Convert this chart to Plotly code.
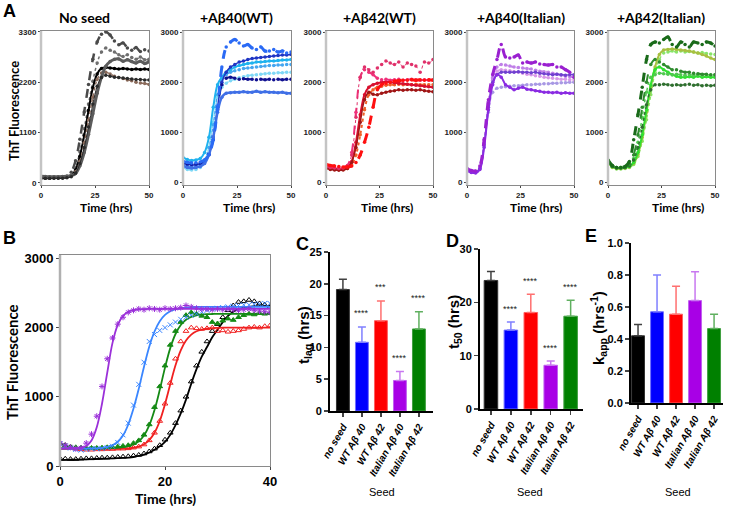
import plotly.graph_objects as go

W, H = 729, 506
def fx(px): return px / W
def fy(py): return 1 - py / H

# ------------------------------------------------------------------ data
TIME_A = [0, 2, 4, 6, 8, 10, 12, 14, 16, 18, 20, 22, 24, 26, 28, 30, 32, 34, 36, 38, 40, 42, 44, 46, 48, 50]

# No seed
NS_1 = [130,125,120,118,120,125,140,230,480,950,1550,2150,2700,3080,3250,3300,3230,3100,3020,3060,2950,2900,2960,2870,2910,2880]
NS_2 = [115,112,110,110,112,118,130,170,330,680,1180,1720,2220,2620,2860,2950,2900,2860,2800,2760,2800,2740,2700,2750,2690,2700]
NS_3 = [105,100,100,102,105,110,118,150,280,580,1030,1580,2080,2380,2500,2520,2510,2500,2490,2500,2490,2480,2490,2480,2490,2480]
NS_4 = [120,118,115,115,118,120,128,150,240,470,870,1370,1870,2260,2400,2420,2380,2330,2300,2280,2250,2230,2200,2180,2170,2150]
NS_5 = [140,135,130,130,132,135,140,155,200,370,660,1060,1510,1960,2310,2550,2650,2700,2710,2660,2690,2650,2620,2660,2610,2650]
NS_6 = [100,98,95,95,98,100,108,130,210,420,770,1220,1720,2110,2300,2350,2330,2310,2300,2290,2280,2270,2260,2260,2250,2250]

# +Abeta40 (WT)
W40_1 = [420,400,390,395,410,450,560,850,1500,2300,2700,2800,2850,2780,2720,2750,2680,2650,2700,2620,2620,2650,2600,2620,2580,2600]
W40_2 = [330,300,290,300,320,380,550,900,1400,1700,1780,1790,1800,1800,1810,1800,1800,1820,1800,1810,1800,1800,1790,1800,1780,1780]
W40_3 = [400,380,370,375,390,430,560,850,1450,1950,2080,2100,2080,2060,2070,2060,2060,2050,2060,2050,2060,2050,2060,2050,2060,2060]
W40_4 = [380,360,350,355,370,420,560,900,1500,2000,2200,2300,2350,2400,2420,2450,2470,2480,2490,2500,2510,2520,2530,2540,2540,2550]
W40_5 = [500,460,440,450,480,600,900,1500,1950,2100,2200,2250,2300,2330,2350,2370,2380,2400,2400,2410,2420,2420,2430,2440,2440,2450]
W40_6 = [300,260,250,260,300,420,700,1200,1700,1900,1980,2030,2060,2090,2110,2130,2140,2150,2160,2170,2180,2180,2190,2190,2200,2200]
W40_7 = [350,320,310,320,350,450,700,1150,1750,2050,2150,2200,2230,2250,2270,2280,2290,2300,2310,2320,2330,2330,2340,2340,2350,2350]

# +Abeta42 (WT)
W42_1 = [320,300,290,280,290,330,550,1300,2100,2300,2250,2200,2280,2350,2420,2380,2350,2400,2300,2380,2350,2320,2200,2400,2380,2450]
W42_2 = [330,310,300,290,300,340,600,1400,2100,2250,2200,2150,2080,2050,2060,2040,2050,2060,2040,2050,2060,2050,2040,2050,2040,2050]
W42_3 = [280,260,250,245,250,280,400,700,1200,1650,1800,1760,1750,1780,1800,1820,1830,1850,1840,1850,1850,1840,1850,1830,1820,1810]
W42_4 = [360,340,330,320,310,310,330,400,550,800,1100,1500,1850,1950,1980,2000,2020,2030,2040,2040,2050,2040,2050,2040,2050,2040]
W42_5 = [300,280,270,260,260,280,350,550,950,1450,1750,1850,1900,1920,1940,1950,1950,1960,1950,1960,1950,1960,1950,1950,1950,1950]
W42_6 = [310,290,280,270,275,300,420,800,1350,1750,1900,1950,1980,2000,2010,2000,1990,1980,1970,1960,1950,1940,1930,1920,1910,1900]

# +Abeta40 (Italian)
I40_1 = [280,240,230,330,850,1650,2150,2450,2750,2500,2480,2500,2540,2380,2400,2380,2400,2360,2350,2340,2350,2300,2300,2250,2200,2100]
I40_2 = [230,200,190,260,700,1450,1950,2150,2100,1950,1900,1850,1880,1900,1860,1850,1830,1820,1800,1800,1790,1800,1780,1790,1780,1780]
I40_3 = [250,220,210,280,750,1500,2000,2150,2200,2200,2200,2200,2210,2200,2200,2190,2200,2180,2170,2160,2150,2160,2150,2140,2150,2150]
I40_4 = [260,230,220,290,780,1550,2100,2300,2350,2340,2320,2300,2290,2280,2270,2260,2240,2220,2210,2200,2180,2160,2140,2120,2110,2100]
I40_5 = [240,210,200,270,720,1400,1800,1880,1900,1910,1920,1930,1930,1940,1950,1950,1960,1960,1970,1970,1980,1980,1990,1990,2000,2000]
I40_6 = [260,235,225,300,790,1580,2080,2220,2250,2240,2230,2210,2200,2180,2160,2150,2130,2120,2100,2090,2080,2070,2060,2060,2050,2050]

# +Abeta42 (Italian)
I42_1 = [450,340,300,300,320,420,850,1350,1900,2450,2750,2800,2780,2850,2900,2750,2700,2800,2750,2700,2800,2780,2750,2800,2780,2720]
I42_2 = [430,330,300,300,310,360,550,950,1500,2000,2350,2450,2400,2350,2300,2250,2250,2220,2200,2200,2180,2170,2160,2160,2150,2150]
I42_3 = [420,320,290,290,300,330,450,700,1100,1550,1850,1950,1950,1960,1950,1940,1950,1940,1950,1960,1940,1950,1930,1940,1930,1940]
I42_4 = [400,310,280,280,290,310,380,560,900,1400,1900,2300,2550,2640,2650,2660,2650,2640,2630,2620,2600,2580,2550,2520,2480,2450]
I42_5 = [410,320,290,290,300,320,400,600,950,1450,1950,2250,2300,2250,2200,2150,2120,2100,2100,2110,2100,2120,2100,2110,2100,2100]
I42_6 = [390,300,270,270,280,300,360,520,820,1250,1750,2200,2450,2580,2600,2620,2600,2620,2600,2610,2600,2580,2590,2570,2560,2550]
I42_7 = [440,330,300,300,310,340,480,800,1300,1800,2100,2150,2180,2170,2160,2150,2160,2150,2140,2150,2140,2150,2140,2150,2140,2150]

# Panel B: averaged traces and sigmoidal fits
TIME_B = [0,1,2,3,4,5,6,7,8,9,10,11,12,13,14,15,16,17,18,19,20,21,22,23,24,25,26,27,28,29,30,31,32,33,34,35,36,37,38,39,40]
B_PURPLE = [330,300,270,250,260,330,460,720,1150,1550,1850,2050,2150,2220,2250,2270,2260,2280,2270,2260,2280,2270,2280,2290,2320,2300,2280,2270,2270,2260,2270,2260,2270,2260,2250,2260,2270,2250,2240,2230,2220]
B_PURPLE_FIT = [255,255,256,258,265,290,370,560,900,1350,1780,2040,2170,2230,2255,2265,2268,2270,2270,2270,2270,2270,2270,2270,2270,2270,2270,2270,2270,2270,2270,2270,2270,2270,2270,2270,2270,2270,2270,2270,2270]
B_BLUE = [320,290,260,240,230,240,250,250,255,265,285,340,450,620,880,1180,1500,1800,1900,1960,2000,2040,2080,2120,2150,2180,2200,2230,2250,2270,2280,2290,2300,2310,2320,2330,2330,2340,2340,2350,2350]
B_BLUE_FIT = [250,250,250,250,250,252,253,256,262,275,300,350,440,600,830,1115,1435,1725,1944,2093,2184,2236,2266,2281,2290,2295,2298,2300,2300,2300,2300,2300,2300,2300,2300,2300,2300,2300,2300,2300,2300]
B_GREEN = [330,300,280,270,265,260,260,260,265,270,275,280,290,300,330,370,450,600,850,1150,1450,1750,1950,2080,2180,2220,2200,2170,2150,2080,2060,2100,2130,2110,2150,2180,2200,2190,2210,2200,2210]
B_GREEN_FIT = [258,258,258,258,258,258,258,259,259,260,262,267,274,287,311,358,442,586,808,1100,1422,1704,1908,2038,2115,2155,2177,2188,2194,2197,2200,2200,2200,2200,2200,2200,2200,2200,2200,2200,2200]
B_RED = [330,300,270,250,240,235,235,240,240,245,245,250,250,255,265,280,310,370,480,650,900,1200,1550,1800,1950,2000,1990,1980,1990,2000,1950,1960,1940,1950,1960,1980,2000,2010,2000,2020,2030]
B_RED_FIT = [245,245,245,245,245,245,245,245,246,246,247,248,250,255,264,281,314,374,480,651,895,1181,1456,1672,1813,1899,1947,1972,1986,1993,1997,2000,2000,2000,2000,2000,2000,2000,2000,2000,2000]
B_BLACK = [110,105,100,100,105,110,110,115,120,120,125,130,135,140,150,160,180,210,250,300,380,480,620,800,1000,1220,1450,1650,1800,1950,2050,2150,2250,2320,2370,2380,2400,2380,2350,2330,2300]
B_BLACK_FIT = [85,88,90,92,95,97,100,102,105,108,110,113,117,122,130,145,165,195,235,285,350,450,590,760,960,1190,1400,1580,1720,1860,1970,2080,2170,2230,2270,2290,2300,2310,2310,2310,2310]

# Panels C-E
CATS = ["no seed", "WT Aβ 40", "WT Aβ 42", "Italian Aβ 40", "Italian Aβ 42"]
TLAG = [19.1, 10.8, 14.2, 4.8, 12.9]
TLAG_ERR = [1.6, 2.4, 3.1, 1.4, 2.7]
TLAG_SIG = ["", "****", "***", "****", "****"]
T50 = [24.1, 14.8, 18.1, 8.2, 17.4]
T50_ERR = [1.7, 1.5, 3.4, 0.8, 3.0]
T50_SIG = ["", "****", "****", "****", "****"]
KAPP = [0.42, 0.57, 0.555, 0.64, 0.465]
KAPP_ERR = [0.07, 0.23, 0.175, 0.18, 0.09]

# ------------------------------------------------------------------ styles
BAR_COL = ['#000000', '#0000FF', '#FF0000', '#A800E6', '#008000']
BAR_LINE = ['#333333', '#7070FF', '#FF6060', '#C060F0', '#40A040']
ERR_COL = ['#404040', '#8080FF', '#FF7070', '#C878F0', '#60B060']

A_PANELS = [
    ("No seed", [NS_1, NS_2, NS_3, NS_4, NS_5, NS_6],
     ['#4a4a4a', '#6e6e6e', '#000000', '#8a6a5a', '#5c5c5c', '#2a2a2a'],
     ['dash', 'dot', 'solid', 'dot', 'solid', 'solid'], [2.5, 1.5, 2, 1.5, 3, 1]),
    ("+Aβ40(WT)", [W40_6, W40_7, W40_5, W40_4, W40_3, W40_2, W40_1],
     ['#7fd8f6', '#45a6f0', '#1fb2ee', '#1f35c4', '#101090', '#3f6fe6', '#2a6af5'],
     ['dot', 'dot', 'solid', 'solid', 'dash', 'solid', 'dash'], [1.5, 1.5, 2, 1.5, 2, 2.5, 3]),
    ("+Aβ42(WT)", [W42_5, W42_6, W42_3, W42_2, W42_1, W42_4],
     ['#f0602a', '#d8102e', '#a01515', '#f0307a', '#e0306a', '#ff1010'],
     ['dot', 'solid', 'solid', 'dash', 'dot', 'dash'], [2, 2, 1.5, 2, 1, 3]),
    ("+Aβ40(Italian)", [I40_5, I40_6, I40_4, I40_3, I40_2, I40_1],
     ['#a898e4', '#d898e8', '#c080e8', '#7040d0', '#8a2be2', '#9a20d0'],
     ['dot', 'dot', 'dot', 'solid', 'solid', 'dash'], [1.5, 1.5, 2, 1.5, 2, 3]),
    ("+Aβ42(Italian)", [I42_6, I42_4, I42_5, I42_7, I42_3, I42_2, I42_1],
     ['#88e468', '#a8c040', '#30e030', '#50c850', '#2f6f2f', '#2e8b2e', '#1a6b1a'],
     ['dot', 'solid', 'solid', 'dot', 'dot', 'dash', 'dash'], [1.5, 2, 2, 1.5, 1.5, 2, 3]),
]
A_X = [(41, 149), (183, 291), (326, 433), (467, 574), (608, 715)]
A_TITLE_X = [84, 236, 379, 521, 661]
A_XLAB_X = [106, 249, 387, 536, 678]
A_YMAX = [3300, 3000, 3000, 3000, 3000]

B_SERIES = [
    (B_BLACK, B_BLACK_FIT, '#000000', 'triangle-up-open'),
    (B_RED, B_RED_FIT, '#f02020', 'triangle-up-open'),
    (B_GREEN, B_GREEN_FIT, '#158a15', 'triangle-up'),
    (B_BLUE, B_BLUE_FIT, '#3a86ff', 'x-thin-open'),
    (B_PURPLE, B_PURPLE_FIT, '#9b30d9', 'asterisk-open'),
]

FONT_T = "Lato, 'Open Sans', Arial"
FONT_N = "'Liberation Sans Narrow', 'Arial Narrow', 'Liberation Sans', Arial"
FONT_A = "'Liberation Sans', Arial"

fig = go.Figure()
layout = dict(width=W, height=H, margin=dict(l=0, r=0, t=0, b=0, pad=0, autoexpand=False),
              paper_bgcolor='white', plot_bgcolor='white', showlegend=False,
              barmode='overlay')
annotations = []
shapes = []

def axis_common(**kw):
    d = dict(showgrid=False, zeroline=False, showline=True, fixedrange=True, automargin=False)
    d.update(kw)
    return d

# ------------------------------------------------------------------ Panel A
for i, (title, curves, cols, dashes, widths) in enumerate(A_PANELS):
    n = i + 1
    xs = '' if n == 1 else str(n)
    x0, x1 = A_X[i]
    ymax = A_YMAX[i]
    for vals, c, d, w in zip(curves, cols, dashes, widths):
        fig.add_trace(go.Scatter(x=TIME_A, y=vals, mode='lines+markers',
                                 line=dict(color=c, width=w, dash=d, shape='spline'),
                                 marker=dict(size=3.5, color=c),
                                 xaxis='x' + xs, yaxis='y' + xs, hoverinfo='skip'))
    layout['xaxis' + xs] = axis_common(domain=[fx(x0), fx(x1)], range=[0, 50], anchor='y' + xs,
                                       tickvals=[0, 25, 50], ticks='outside', ticklen=2,
                                       linecolor='#8a8a8a', linewidth=1, mirror=True,
                                       tickfont=dict(size=8, family=FONT_N, color='#222', weight='bold'))
    layout['yaxis' + xs] = axis_common(domain=[fy(185), fy(31)], range=[-50, ymax + 20], anchor='x' + xs,
                                       tickvals=[0, ymax / 3, 2 * ymax / 3, ymax],
                                       ticktext=[str(int(v)) for v in [0, ymax / 3, 2 * ymax / 3, ymax]],
                                       ticks='outside', ticklen=2,
                                       linecolor='#8a8a8a', linewidth=1, mirror=True,
                                       tickfont=dict(size=8, family=FONT_N, color='#222', weight='bold'))
    shapes.append(dict(type='line', xref='paper', yref='paper', x0=fx(x0), x1=fx(x0),
                       y0=fy(185), y1=fy(31), line=dict(color='#c4c4c4', width=2.5)))
    annotations.append(dict(text=title, x=fx(A_TITLE_X[i]), y=fy(17), xref='paper', yref='paper',
                            showarrow=False, xanchor='center', yanchor='middle',
                            font=dict(size=14, family=FONT_T, color='black', weight='bold')))
    annotations.append(dict(text='Time (hrs)', x=fx(A_XLAB_X[i]), y=fy(207), xref='paper', yref='paper',
                            showarrow=False, xanchor='center', yanchor='middle',
                            font=dict(size=12, family=FONT_T, color='black', weight='bold')))

annotations.append(dict(text='ThT Fluorescence', x=fx(14), y=fy(111), xref='paper', yref='paper',
                        textangle=-90, showarrow=False, xanchor='center', yanchor='middle',
                        font=dict(size=13, family=FONT_T, color='black', weight='bold')))

# ------------------------------------------------------------------ Panel B
for data, fit, c, sym in B_SERIES:
    fig.add_trace(go.Scatter(x=TIME_B, y=data, mode='markers',
                             marker=dict(symbol=sym, size=5, color=c, line=dict(color=c, width=1)),
                             xaxis='x6', yaxis='y6', hoverinfo='skip'))
    fig.add_trace(go.Scatter(x=TIME_B, y=fit, mode='lines',
                             line=dict(color=c, width=1.8, shape='spline'),
                             xaxis='x6', yaxis='y6', hoverinfo='skip'))
layout['xaxis6'] = axis_common(domain=[fx(60), fx(270)], range=[0, 40], anchor='y6',
                               tickvals=[0, 20, 40], ticks='outside', ticklen=3,
                               linecolor='#8a8a8a', linewidth=1, mirror=True,
                               tickfont=dict(size=13, family=FONT_A, color='black', weight='bold'))
layout['yaxis6'] = axis_common(domain=[fy(466), fy(255)], range=[0, 3050], anchor='x6',
                               tickvals=[0, 1000, 2000, 3000], ticks='outside', ticklen=3,
                               linecolor='#8a8a8a', linewidth=1, mirror=True,
                               tickfont=dict(size=13, family=FONT_A, color='black', weight='bold'))
shapes.append(dict(type='line', xref='paper', yref='paper', x0=fx(60), x1=fx(60),
                   y0=fy(466), y1=fy(255), line=dict(color='#b0b0b0', width=2.5)))
annotations.append(dict(text='Time (hrs)', x=fx(165), y=fy(498), xref='paper', yref='paper',
                        showarrow=False, xanchor='center', yanchor='middle',
                        font=dict(size=14, family=FONT_T, color='black', weight='bold')))
annotations.append(dict(text='ThT Fluorescence', x=fx(12), y=fy(362), xref='paper', yref='paper',
                        textangle=-90, showarrow=False, xanchor='center', yanchor='middle',
                        font=dict(size=15, family=FONT_T, color='black', weight='bold')))

# ------------------------------------------------------------------ Panels C, D, E
BAR_PANELS = [
    ('7', TLAG, TLAG_ERR, TLAG_SIG, (330, 433), (411, 252), [0, 25], 5, [-0.68, 4.74],
     't<sub>lag</sub> (hrs)', 304, 335, 382, 14),
    ('8', T50, T50_ERR, T50_SIG, (480, 583), (409, 249), [0, 30], 10, [-0.55, 4.62],
     't<sub>50</sub> (hrs)', 454, 322, 530, 13),
    ('9', KAPP, KAPP_ERR, None, (631, 723), (403, 243), [0, 1.0], 0.2, [-0.37, 4.47],
     'k<sub>app</sub> (hrs<sup>-1</sup>)', 598, 328, 678, 13),
]
for (ax, vals, errs, sig, (xl, xr), (yb, yt), yr, dt, xrng,
     ytitle, ytx, yty, seedx, sshift) in BAR_PANELS:
    for j in range(len(CATS)):
        fig.add_trace(go.Bar(x=[j], y=[vals[j]], width=0.68,
                             marker=dict(color=BAR_COL[j], line=dict(color=BAR_LINE[j], width=1)),
                             error_y=dict(type='data', symmetric=False, array=[errs[j]], arrayminus=[0],
                                          color=ERR_COL[j], thickness=1.5, width=4),
                             xaxis='x' + ax, yaxis='y' + ax, hoverinfo='skip'))
        if sig and sig[j]:
            annotations.append(dict(text=sig[j], x=j, y=vals[j] + errs[j], xref='x' + ax, yref='y' + ax,
                                    showarrow=False, xanchor='center', yanchor='middle', yshift=sshift,
                                    font=dict(size=9, family=FONT_N, color='#222')))
    layout['xaxis' + ax] = axis_common(domain=[fx(xl), fx(xr)], range=xrng, anchor='y' + ax,
                                       tickvals=list(range(len(CATS))), ticktext=CATS, tickangle=-60,
                                       ticks='outside', ticklen=4, tickwidth=1.5,
                                       linecolor='black', linewidth=2,
                                       tickfont=dict(size=10, family=FONT_A, color='black',
                                                     weight='bold', style='italic'))
    layout['yaxis' + ax] = axis_common(domain=[fy(yb), fy(yt)], range=yr, anchor='x' + ax,
                                       dtick=dt, tick0=0, ticks='outside', ticklen=4, tickwidth=1.5,
                                       tickformat='.1f' if ax == '9' else 'd',
                                       linecolor='black', linewidth=2,
                                       tickfont=dict(size=11, family=FONT_N, color='black', weight='bold'))
    annotations.append(dict(text=ytitle, x=fx(ytx), y=fy(yty), xref='paper', yref='paper',
                            textangle=-90, showarrow=False, xanchor='center', yanchor='middle',
                            font=dict(size=15, family=FONT_A, color='black', weight='bold')))
    annotations.append(dict(text='Seed', x=fx(seedx), y=fy(492), xref='paper', yref='paper',
                            showarrow=False, xanchor='center', yanchor='middle',
                            font=dict(size=11, family=FONT_N, color='black')))

# ------------------------------------------------------------------ panel letters
for letter, px, py in [('A', 9, 11), ('B', 9, 238), ('C', 302, 244), ('D', 452, 241), ('E', 591, 236)]:
    annotations.append(dict(text=letter, x=fx(px), y=fy(py), xref='paper', yref='paper',
                            showarrow=False, xanchor='center', yanchor='middle',
                            font=dict(size=18, family=FONT_A, color='black', weight='bold')))

layout['annotations'] = annotations
layout['shapes'] = shapes
fig.update_layout(**layout)

fig.write_html("out.html", config={'displayModeBar': False, 'staticPlot': True},
               post_script="document.body.style.margin='0';")
